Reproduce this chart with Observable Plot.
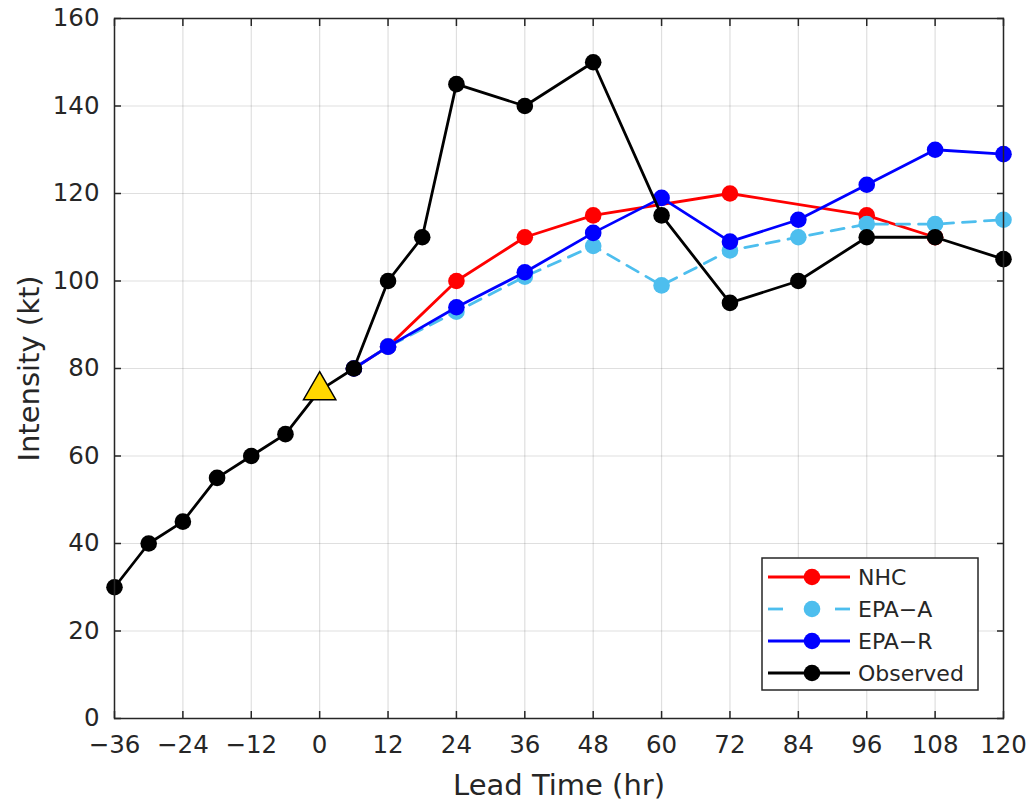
<!DOCTYPE html>
<html>
<head>
<meta charset="utf-8">
<script src="https://cdn.jsdelivr.net/npm/d3@7"></script>
<script src="https://cdn.jsdelivr.net/npm/@observablehq/plot@0.6"></script>
<style>
  html, body { margin: 0; padding: 0; background: #fff; }
  #chart { position: relative; width: 1034px; height: 803px; }
</style>
</head>
<body>
<div id="chart"></div>
<script>
// ---- Data ----
const obsHours = [-36, -30, -24, -18, -12, -6, 0, 6, 12, 18, 24, 36, 48, 60, 72, 84, 96, 108, 120];
const observed = [30, 40, 45, 55, 60, 65, 75, 80, 100, 110, 145, 140, 150, 115, 95, 100, 110, 110, 105];

const nhcHours = [6, 12, 24, 36, 48, 72, 96, 108];
const nhc = [80, 85, 100, 110, 115, 120, 115, 110];

const epaHours = [6, 12, 24, 36, 48, 60, 72, 84, 96, 108, 120];
const epaA = [80, 85, 93, 101, 108, 99, 107, 110, 113, 113, 114];
const epaR = [80, 85, 94, 102, 111, 119, 109, 114, 122, 130, 129];

const initHour = [0];
const initValue = [75];

const xTicks = [-36, -24, -12, 0, 12, 24, 36, 48, 60, 72, 84, 96, 108, 120];
const yTicks = [0, 20, 40, 60, 80, 100, 120, 140, 160];

const seriesNames = ["NHC", "EPA-A", "EPA-R", "Observed"];
const seriesColors = ["#ff0000", "#4dbeee", "#0000ff", "#000000"];

// ---- Build tables ----
const toRows = (hs, vs) => hs.map((h, i) => ({h, v: vs[i]}));
const nhcRows = toRows(nhcHours, nhc);
const epaARows = toRows(epaHours, epaA);
const epaRRows = toRows(epaHours, epaR);
const obsRows = toRows(obsHours, observed);
const initRows = toRows(initHour, initValue);

const textColor = "#262626";
const fmtX = d => d < 0 ? "\u2212" + (-d) : String(d);

const lineOpts = (color, extra = {}) => ({x: "h", y: "v", stroke: color, strokeWidth: 2.8, ...extra});
const dotOpts = (color) => ({x: "h", y: "v", r: 8.3, fill: color, stroke: null});

const chart = Plot.plot({
  width: 1034,
  height: 803,
  marginLeft: 114,
  marginRight: 31,
  marginTop: 18,
  marginBottom: 85,
  style: {fontFamily: "DejaVu Sans", fontSize: "24.5px", color: textColor, background: "white"},
  x: {domain: [-36, 120]},
  y: {domain: [0, 160]},
  marks: [
    Plot.gridX(xTicks, {stroke: textColor, strokeOpacity: 0.15, strokeWidth: 1.2}),
    Plot.gridY(yTicks, {stroke: textColor, strokeOpacity: 0.15, strokeWidth: 1.2}),
    // data
    Plot.line(nhcRows, lineOpts(seriesColors[0])),
    Plot.dot(nhcRows, dotOpts(seriesColors[0])),
    Plot.line(epaARows, lineOpts(seriesColors[1], {strokeDasharray: "13,9"})),
    Plot.dot(epaARows, dotOpts(seriesColors[1])),
    Plot.line(epaRRows, lineOpts(seriesColors[2])),
    Plot.dot(epaRRows, dotOpts(seriesColors[2])),
    Plot.line(obsRows, lineOpts(seriesColors[3])),
    Plot.dot(obsRows, dotOpts(seriesColors[3])),
    Plot.dot(initRows, {x: "h", y: "v", symbol: "triangle", r: 12, fill: "#ffd700", stroke: "#000", strokeWidth: 1.5}),
    // frame + axes
    Plot.frame({stroke: textColor, strokeWidth: 1.5}),
    Plot.axisX(xTicks, {anchor: "bottom", tickSize: -7, tickPadding: 24, tickFormat: fmtX, stroke: textColor, strokeWidth: 1.5,
      label: "Lead Time (hr)", labelAnchor: "center", labelArrow: "none", labelOffset: 76}),
    Plot.axisX(xTicks, {anchor: "top", tickSize: -7, tickFormat: () => "", label: null, stroke: textColor, strokeWidth: 1.5}),
    Plot.axisY(yTicks, {anchor: "left", tickSize: -7, tickPadding: 22, stroke: textColor, strokeWidth: 1.5,
      label: "Intensity (kt)", labelAnchor: "center", labelArrow: "none", labelOffset: 96}),
    Plot.axisY(yTicks, {anchor: "right", tickSize: -7, tickFormat: () => "", label: null, stroke: textColor, strokeWidth: 1.5})
  ]
});

document.getElementById("chart").appendChild(chart);

// axis label font size
d3.select(chart).selectAll("[aria-label$='axis label'] text").style("font-size", "29px");

// ---- Legend (drawn in pixel space inside the svg) ----
const svg = d3.select(chart);
const lg = svg.append("g").attr("class", "legend").attr("text-anchor", "start");
const bx = 762, by = 558, bw = 216, bh = 132;
lg.append("rect").attr("x", bx).attr("y", by).attr("width", bw).attr("height", bh)
  .attr("fill", "white").attr("stroke", textColor).attr("stroke-width", 1.5);
const rowY = [577, 609, 641, 673];
seriesNames.forEach((name, i) => {
  const y = rowY[i];
  if (name === "EPA-A") {
    lg.append("line").attr("x1", 768).attr("x2", 783).attr("y1", y).attr("y2", y)
      .attr("stroke", seriesColors[i]).attr("stroke-width", 2.8);
    lg.append("line").attr("x1", 835).attr("x2", 850).attr("y1", y).attr("y2", y)
      .attr("stroke", seriesColors[i]).attr("stroke-width", 2.8);
  } else {
    lg.append("line").attr("x1", 768).attr("x2", 850).attr("y1", y).attr("y2", y)
      .attr("stroke", seriesColors[i]).attr("stroke-width", 2.8);
  }
  lg.append("circle").attr("cx", 812).attr("cy", y).attr("r", 8.3).attr("fill", seriesColors[i]);
  lg.append("text").attr("x", 858).attr("y", y).attr("dy", "0.36em")
    .attr("fill", textColor).attr("text-anchor", "start")
    .style("font-family", "DejaVu Sans").style("font-size", "22px")
    .text(name.replace("-", "\u2212"));
});
</script>
</body>
</html>
